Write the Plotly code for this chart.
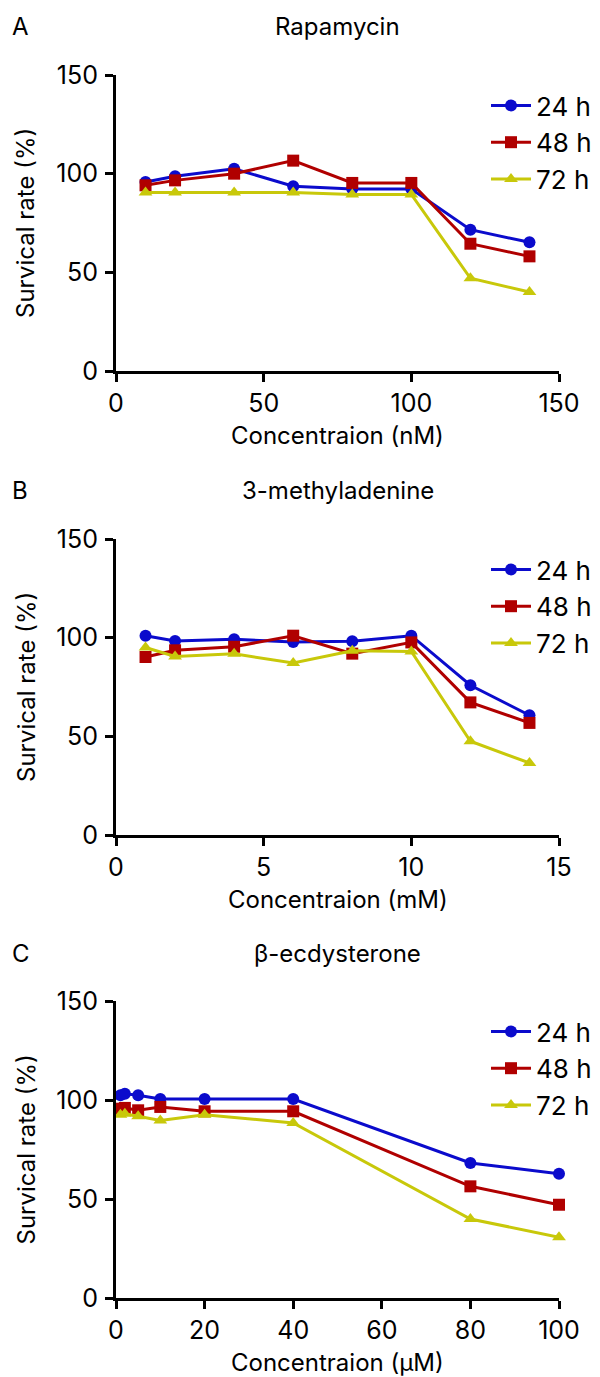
import plotly.graph_objects as go

# ---------------- data ----------------
series_names = ["24 h", "48 h", "72 h"]

rapa_x = [10, 20, 40, 60, 80, 100, 120, 140]
rapa_24 = [95.8, 98.7, 102.5, 93.6, 92.2, 92.2, 71.6, 65.2]
rapa_48 = [94.1, 96.6, 100.0, 106.6, 95.3, 95.3, 64.5, 58.1]
rapa_72 = [90.5, 90.5, 90.5, 90.5, 89.5, 89.5, 47.0, 40.0]

mea_x = [1, 2, 4, 6, 8, 10, 12, 14]
mea_24 = [101.0, 98.3, 99.2, 97.8, 98.2, 101.0, 75.9, 60.7]
mea_48 = [90.2, 93.6, 95.4, 101.0, 91.9, 97.6, 67.2, 56.8]
mea_72 = [95.0, 90.5, 91.8, 87.2, 93.4, 93.0, 47.5, 36.5]

ecd_x = [1, 2, 5, 10, 20, 40, 80, 100]
ecd_24 = [102.4, 103.2, 102.4, 100.5, 100.5, 100.5, 68.2, 62.8]
ecd_48 = [95.6, 96.0, 94.8, 96.5, 94.3, 94.3, 56.4, 47.1]
ecd_72 = [92.6, 93.0, 91.8, 89.6, 92.6, 88.4, 39.9, 30.7]

panel_titles = ["Rapamycin", "3-methyladenine", "β-ecdysterone"]
panel_letters = ["A", "B", "C"]
x_titles = ["Concentraion (nM)", "Concentraion (mM)", "Concentraion (μM)"]
y_title = "Survical rate (%)"
x_ranges = [[0, 150], [0, 15], [0, 100]]
x_dticks = [50, 5, 20]
y_ticks = [0, 50, 100, 150]

# ---------------- style ----------------
W, H = 600, 1377
FONT = "Inter, Arial, sans-serif"
colors = ["#0b0bcc", "#b00000", "#c8c80a"]
symbols = ["circle", "square", "triangle-up"]
msizes = [12, 12, 12]

x_left, x_right = 108, 551
panels_px = [(67, 363), (531, 827), (993, 1290)]  # (top, bottom) pixel

def fy(px):
    return 1 - px / H

def fx(px):
    return px / W

fig = go.Figure()

data = [
    (rapa_x, [rapa_24, rapa_48, rapa_72]),
    (mea_x, [mea_24, mea_48, mea_72]),
    (ecd_x, [ecd_24, ecd_48, ecd_72]),
]

annotations = []
for i, (xs, ys_list) in enumerate(data):
    n = "" if i == 0 else str(i + 1)
    leg = "legend" if i == 0 else f"legend{i + 1}"
    for j, ys in enumerate(ys_list):
        fig.add_trace(go.Scatter(
            x=xs, y=ys, mode="lines+markers", name=series_names[j],
            xaxis="x" + n, yaxis="y" + n, legend=leg,
            line=dict(color=colors[j], width=3),
            marker=dict(color=colors[j], symbol=symbols[j], size=msizes[j], line=dict(width=0)),
            cliponaxis=False,
        ))
    top, bot = panels_px[i]
    axis_common = dict(
        showline=True, linecolor="black", linewidth=3,
        ticks="outside", ticklen=8, tickwidth=3, tickcolor="black",
        showgrid=False, zeroline=False, automargin=False,
        tickfont=dict(family=FONT, size=25, color="black"),
    )
    fig.update_layout(**{
        "xaxis" + n: dict(
            domain=[fx(x_left), fx(x_right)], range=x_ranges[i],
            anchor="y" + n, tick0=0, dtick=x_dticks[i],
            **axis_common),
        "yaxis" + n: dict(
            domain=[fy(bot), fy(top)], range=[0, 150],
            anchor="x" + n, tickvals=y_ticks, ticklabelstandoff=2,
            **axis_common),
        leg: dict(
            x=fx(478), y=fy(top + 7), xanchor="left", yanchor="top",
            font=dict(family=FONT, size=26, color="black"),
            bgcolor="rgba(0,0,0,0)", itemwidth=40, tracegroupgap=0,
        ),
    })
    # panel title
    annotations.append(dict(
        text=panel_titles[i], x=fx((x_left + x_right) / 2), y=fy(top - 48),
        xref="paper", yref="paper", showarrow=False, xanchor="center", yanchor="middle",
        font=dict(family=FONT, size=24, color="black")))
    # panel letter
    annotations.append(dict(
        text=panel_letters[i], x=fx(2), y=fy(top - 48),
        xref="paper", yref="paper", showarrow=False, xanchor="left", yanchor="middle",
        font=dict(family=FONT, size=24, color="black")))
    # x title
    annotations.append(dict(
        text=x_titles[i], x=fx((x_left + x_right) / 2), y=fy(bot + 64),
        xref="paper", yref="paper", showarrow=False, xanchor="center", yanchor="middle",
        font=dict(family=FONT, size=24, color="black")))
    # y title
    annotations.append(dict(
        text=y_title, x=fx(18), y=fy((top + bot) / 2), textangle=-90,
        xref="paper", yref="paper", showarrow=False, xanchor="center", yanchor="middle",
        font=dict(family=FONT, size=24, color="black")))

fig.update_layout(
    template="none",
    width=W, height=H, margin=dict(l=0, r=0, t=0, b=0, autoexpand=False),
    paper_bgcolor="white", plot_bgcolor="white",
    annotations=annotations, showlegend=True,
)

fig.write_html("out.html")
